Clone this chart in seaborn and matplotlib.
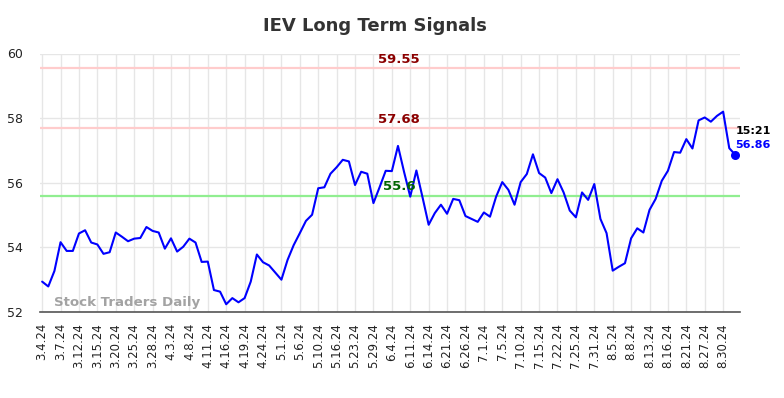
import numpy as np
import pandas as pd
import matplotlib
matplotlib.use("Agg")
import matplotlib.pyplot as plt
import seaborn as sns

tick_labels = ["3.4.24", "3.7.24", "3.12.24", "3.15.24", "3.20.24", "3.25.24", "3.28.24",
               "4.3.24", "4.8.24", "4.11.24", "4.16.24", "4.19.24", "4.24.24", "5.1.24",
               "5.6.24", "5.10.24", "5.16.24", "5.23.24", "5.29.24", "6.4.24", "6.11.24",
               "6.14.24", "6.21.24", "6.26.24", "7.1.24", "7.5.24", "7.10.24", "7.15.24",
               "7.22.24", "7.25.24", "7.31.24", "8.5.24", "8.8.24", "8.13.24", "8.16.24",
               "8.21.24", "8.27.24", "8.30.24"]

prices = [52.94, 52.79, 53.27, 54.16, 53.89, 53.89, 54.43, 54.53, 54.15, 54.09,
          53.80, 53.85, 54.46, 54.33, 54.19, 54.27, 54.29, 54.63, 54.51, 54.46,
          53.96, 54.28, 53.87, 54.02, 54.27, 54.15, 53.55, 53.56, 52.68, 52.63,
          52.24, 52.43, 52.30, 52.43, 52.94, 53.78, 53.54, 53.44, 53.22, 53.00,
          53.61, 54.07, 54.44, 54.82, 55.01, 55.83, 55.86, 56.28, 56.48, 56.71,
          56.66, 55.93, 56.34, 56.28, 55.37, 55.86, 56.37, 56.36, 57.14, 56.33,
          55.57, 56.38, 55.55, 54.70, 55.06, 55.32, 55.04, 55.50, 55.46, 54.97,
          54.88, 54.79, 55.08, 54.95, 55.57, 56.02, 55.78, 55.32, 56.02, 56.27,
          56.88, 56.30, 56.16, 55.68, 56.11, 55.70, 55.14, 54.93, 55.70, 55.47,
          55.96, 54.88, 54.44, 53.28, 53.40, 53.51, 54.28, 54.59, 54.46, 55.16,
          55.50, 56.06, 56.37, 56.95, 56.93, 57.35, 57.06, 57.93, 58.02, 57.89,
          58.07, 58.20, 57.07, 56.86]

resistance_levels = [59.55, 57.68]
support_levels = [55.6]
last_time = "15:21"
y_ticks = [52, 54, 56, 58, 60]

df = pd.DataFrame({"idx": np.arange(len(prices)), "price": prices})

sns.set_style("whitegrid", {"grid.color": "#e6e6e6", "axes.edgecolor": "#333333"})
plt.rcParams["font.family"] = ["DejaVu Sans"]

fig = plt.figure(figsize=(7.84, 3.98), dpi=100)
ax = fig.add_axes([40 / 784, 1 - 312 / 398, 700 / 784, (312 - 53.5) / 398])

for lv in resistance_levels:
    ax.axhline(lv, color="#ffcccc", lw=1.6, zorder=1)
for lv in support_levels:
    ax.axhline(lv, color="#90ee90", lw=1.6, zorder=1)

sns.lineplot(data=df, x="idx", y="price", ax=ax, color="#0000ff", lw=1.5, zorder=3)
ax.scatter([df["idx"].iloc[-1]], [prices[-1]], s=30, color="#0000ff", zorder=4)

ax.set_xlim(-0.35, len(prices) - 1 + 0.75)
ax.set_ylim(52, 60)
ax.set_yticks(y_ticks)
ax.set_yticklabels([str(v) for v in y_ticks])
ax.set_xticks(np.arange(0, len(tick_labels) * 3, 3))
ax.set_xticklabels(tick_labels, rotation=90)
ax.tick_params(axis="x", labelsize=8.5, colors="#222222", length=0, pad=8)
ax.tick_params(axis="y", labelsize=9, colors="#222222", length=0, pad=12)
ax.set_xlabel("")
ax.set_ylabel("")
for s in ["top", "right", "left"]:
    ax.spines[s].set_visible(False)
ax.spines["bottom"].set_color("#555555")
ax.spines["bottom"].set_linewidth(1.2)
ax.grid(True, color="#e6e6e6", lw=1)

lab_x = 0.513
for lv in resistance_levels:
    ax.text(lab_x, lv + 0.07, f"{lv:.2f}", transform=ax.get_yaxis_transform(),
            ha="center", va="bottom", color="#8b0000", fontsize=9.5, fontweight="bold")
for lv in support_levels:
    ax.text(lab_x, lv + 0.07, f"{lv:g}", transform=ax.get_yaxis_transform(),
            ha="center", va="bottom", color="#006400", fontsize=9.5, fontweight="bold")

ax.annotate(last_time, xy=(df["idx"].iloc[-1], prices[-1]), xytext=(0, 17),
            textcoords="offset points", ha="left", va="center", fontsize=8,
            fontweight="bold", color="black", annotation_clip=False)
ax.annotate(f"{prices[-1]:.2f}", xy=(df["idx"].iloc[-1], prices[-1]), xytext=(0, 7.5),
            textcoords="offset points", ha="left", va="center", fontsize=8,
            fontweight="bold", color="#0000ff", annotation_clip=False)

ax.text(0.02, 0.012, "Stock Traders Daily", transform=ax.transAxes, ha="left",
        va="bottom", fontsize=9.6, fontweight="bold", color="#999999", alpha=0.9)

fig.text(375 / 784, 1 - 26 / 398, "IEV Long Term Signals", ha="center", va="center",
         fontsize=13, fontweight="bold", color="#333333")

fig.savefig("out.png", dpi=100)
